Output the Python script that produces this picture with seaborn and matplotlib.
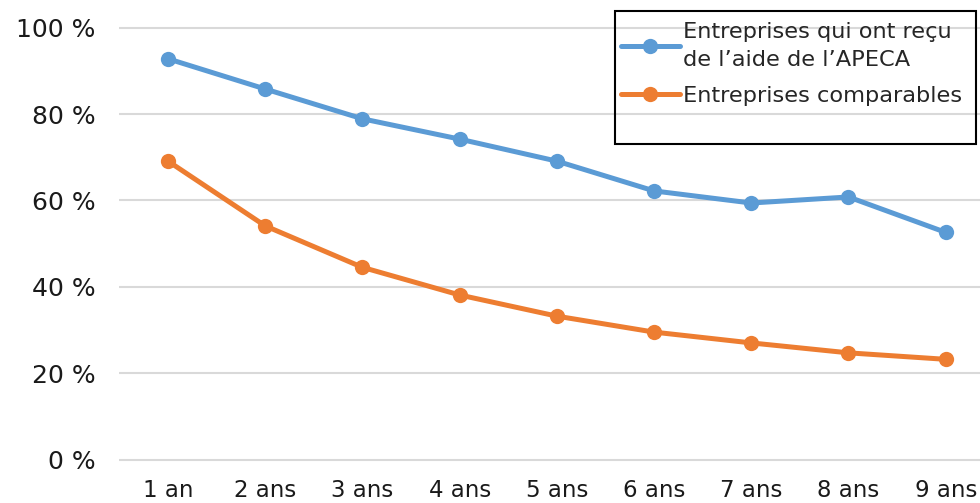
import matplotlib.pyplot as plt
import pandas as pd
import seaborn as sns
from matplotlib.patches import Rectangle

# Taux de survie des entreprises, par ancienneté
years = ["1 an", "2 ans", "3 ans", "4 ans", "5 ans", "6 ans", "7 ans", "8 ans", "9 ans"]
apeca = [92.8, 85.8, 78.9, 74.2, 69.1, 62.2, 59.4, 60.8, 52.6]
comparables = [69.1, 54.1, 44.5, 38.1, 33.2, 29.5, 27.0, 24.7, 23.2]

series_labels = [
    "Entreprises qui ont reçu\nde l\u2019aide de l\u2019APECA",
    "Entreprises comparables",
]
colors = ["#5B9BD5", "#ED7D31"]
y_ticks = [0, 20, 40, 60, 80, 100]
y_tick_labels = ["0 %", "20 %", "40 %", "60 %", "80 %", "100 %"]

df = pd.DataFrame(
    {
        "Ancienneté": years * 2,
        "Taux": apeca + comparables,
        "Groupe": [series_labels[0]] * len(years) + [series_labels[1]] * len(years),
    }
)

sns.set_theme(style="white")
plt.rcParams["font.family"] = ["DejaVu Sans"]

W, H = 980, 503
fig = plt.figure(figsize=(W / 100, H / 100), dpi=100)

# plot area: 0 % at y=459.5 px, 100 % at y=27.7 px; categories 97.2 px apart
px_per_unit = (459.5 - 27.7) / 100
y_bot, y_top = -1, 102
ax = fig.add_axes(
    [
        119.4 / W,
        (H - 459.5 + y_bot * px_per_unit) / H,
        (994.3 - 119.4) / W,
        (y_top - y_bot) * px_per_unit / H,
    ]
)

sns.lineplot(
    data=df,
    x="Ancienneté",
    y="Taux",
    hue="Groupe",
    palette=colors,
    marker="o",
    markersize=11,
    markeredgewidth=0,
    linewidth=3.6,
    sort=False,
    ax=ax,
)

ax.set_xlim(-0.5, len(years) - 0.5)
ax.set_ylim(y_bot, y_top)
ax.set_yticks(y_ticks)
ax.set_yticklabels(y_tick_labels)
ax.yaxis.grid(True, color="#D9D9D9", linewidth=1.5)
ax.set_axisbelow(True)
for side in ["left", "right", "top", "bottom"]:
    ax.spines[side].set_visible(False)
ax.set_xlabel("")
ax.set_ylabel("")
ax.tick_params(axis="y", length=0, pad=17, labelsize=18, labelcolor="#1a1a1a")
ax.tick_params(axis="x", length=0, pad=11, labelsize=16.5, labelcolor="#1a1a1a")

handles, labels = ax.get_legend_handles_labels()
leg = ax.legend(
    handles,
    labels,
    loc="upper left",
    bbox_to_anchor=(621 / W, 1 - 22 / H),
    bbox_transform=fig.transFigure,
    frameon=False,
    fontsize=16.2,
    handlelength=2.6,
    handletextpad=0.15,
    labelspacing=0.7,
    borderaxespad=0,
    borderpad=0,
)
for txt in leg.get_texts():
    txt.set_linespacing(1.5)

# legend frame as drawn by the original (extra empty space at the bottom)
fig.patches.append(
    Rectangle(
        (615 / W, 1 - 144 / H),
        (976 - 615) / W,
        (144 - 10.7) / H,
        transform=fig.transFigure,
        fill=False,
        edgecolor="black",
        linewidth=1.5,
        zorder=5,
    )
)

fig.savefig("out.png", dpi=100)
